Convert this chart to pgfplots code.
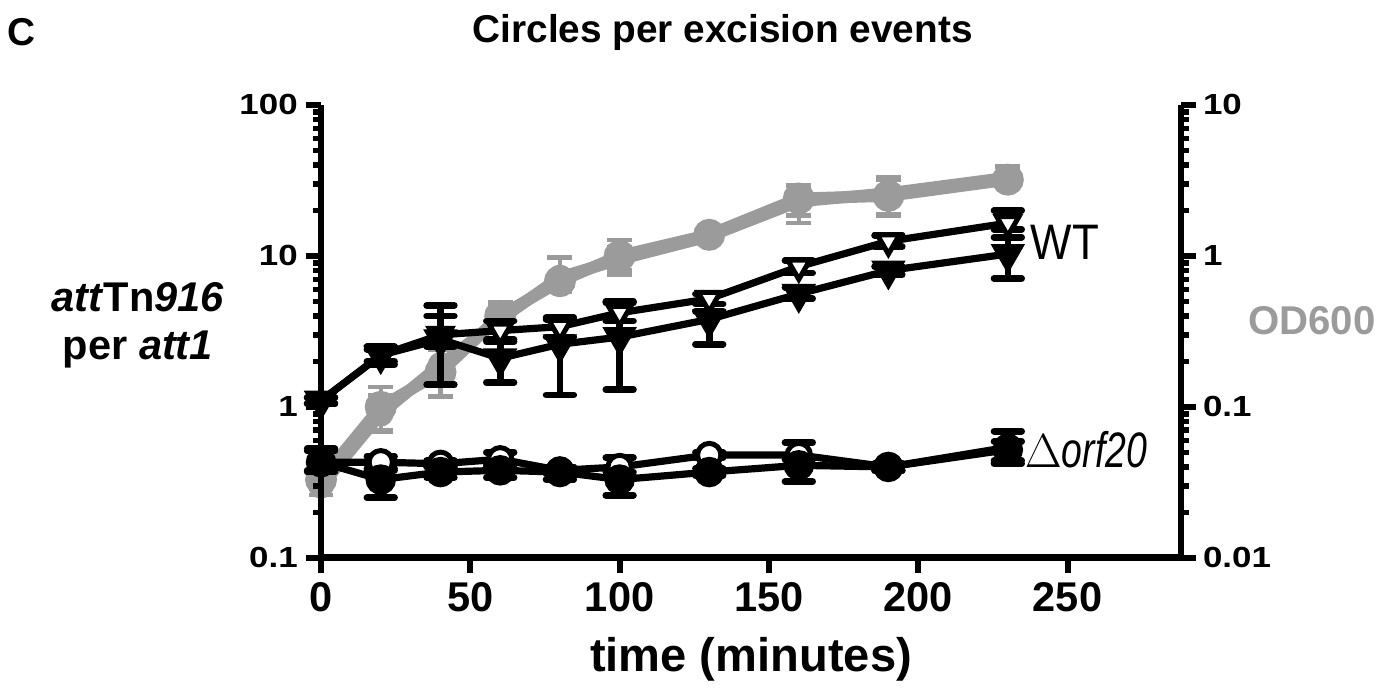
\documentclass[border=0pt]{standalone}
\usepackage{fontspec}
\setmainfont{Liberation Sans}
\newfontfamily\condfont[FakeStretch=0.88]{Liberation Sans}
\newfontfamily\narrowfont[FakeStretch=0.75]{Liberation Sans}
\newfontfamily\widefont[FakeStretch=1.2]{Liberation Sans}
\usepackage{pgfplots}
\usepackage{pgfplotstable}
\pgfplotsset{compat=1.18}

\definecolor{odgray}{RGB}{155,155,155}

% OD600 of the two cultures (right axis)
\pgfplotstableread{
t v ep em
0 0.033 0.006 0.007
20 0.100 0.035 0.030
40 0.170 0.070 0.053
60 0.400 0.090 0.060
80 0.680 0.300 0.100
100 1.000 0.270 0.250
130 1.380 0.150 0.100
160 2.400 0.550 0.550
190 2.500 0.800 0.650
230 3.200 0.700 0.350
}\odA
\pgfplotstableread{
t v ep em
0 0.030 0.005 0.004
20 0.090 0.030 0.022
40 0.190 0.060 0.072
60 0.380 0.100 0.050
80 0.720 0.250 0.120
100 0.950 0.200 0.150
130 1.350 0.120 0.100
160 2.300 0.600 0.650
190 2.600 0.600 0.700
230 3.300 0.600 0.400
}\odB

% circles per excision event (left axis)
\pgfplotstableread{
t v ep em
0 1.10 0.05 0.05
20 2.20 0.20 0.20
40 3.00 1.00 0.50
60 3.20 0.50 0.40
80 3.40 0.50 0.50
100 4.20 0.80 0.50
130 5.20 0.40 0.40
160 8.50 0.80 0.80
190 12.50 1.20 1.00
230 16.50 3.50 1.50
}\wtopen
\pgfplotstableread{
t v ep em
0 1.10 0.05 0.05
20 2.20 0.30 0.30
40 2.80 1.90 1.40
60 2.10 0.60 0.65
80 2.60 1.20 1.40
100 2.90 2.00 1.60
130 3.80 0.50 1.20
160 5.60 0.60 0.40
190 8.00 0.50 0.50
230 10.30 3.00 3.20
}\wtfilled
\pgfplotstableread{
t v ep em
0 0.43 0.10 0.05
20 0.43 0.04 0.04
40 0.42 0.02 0.02
60 0.45 0.05 0.04
80 0.38 0.02 0.02
100 0.40 0.06 0.05
130 0.48 0.02 0.02
160 0.48 0.10 0.07
190 0.40 0.02 0.02
230 0.54 0.15 0.10
}\orfopen
\pgfplotstableread{
t v ep em
0 0.43 0.08 0.06
20 0.33 0.05 0.08
40 0.37 0.03 0.03
60 0.38 0.03 0.04
80 0.37 0.03 0.04
100 0.33 0.04 0.07
130 0.37 0.02 0.02
160 0.41 0.04 0.09
190 0.40 0.02 0.02
230 0.52 0.07 0.10
}\orffilled

\pgfplotsset{
  frame/.style={
    width=310.5pt, height=163.5pt, scale only axis,
    xmin=0, xmax=288, clip=false,
  },
  lines/.style={
    axis line style={line width=2.5pt, -},
    every outer x axis line/.append style={-, line width=2.5pt},
    every outer y axis line/.append style={-, line width=2.5pt},
    tick align=outside,
    major tick length=5.4pt, minor tick length=2.8pt,
    tick style={line width=2.2pt, black},
    minor tick style={line width=2pt, black},
  },
}

\begin{document}
\begin{tikzpicture}
% OD600, right axis
\begin{axis}[frame, ymode=log,
  ymin=0.01, ymax=10,
  axis x line=none, axis y line=right, lines,
  ytick={0.01,0.1,1,10}, yticklabels={0.01,0.1,1,10},
  minor ytick={0.02,0.03,0.04,0.05,0.06,0.07,0.08,0.09,0.2,0.3,0.4,0.5,0.6,0.7,0.8,0.9,2,3,4,5,6,7,8,9},
  yticklabel style={font=\widefont\bfseries\fontsize{10.5}{13}\selectfont, xshift=-1pt},
]
\addplot[odgray, line width=4.3pt, mark=*, mark size=3.8pt, mark options={fill=white, line width=1.6pt},
  error bars/.cd, y dir=both, y explicit,
  error bar style={line width=1.6pt, odgray},
  error mark options={rotate=90, mark size=4.5pt, line width=1.6pt, odgray}]
  table[x=t, y=v, y error plus=ep, y error minus=em] {\odB};
\addplot[odgray, line width=4.3pt, mark=*, mark size=3.6pt,
  error bars/.cd, y dir=both, y explicit,
  error bar style={line width=1.6pt, odgray},
  error mark options={rotate=90, mark size=4.5pt, line width=1.6pt, odgray}]
  table[x=t, y=v, y error plus=ep, y error minus=em] {\odA};
\end{axis}
% excision events, left axis
\begin{axis}[frame, ymode=log,
  ymin=0.1, ymax=100,
  axis x line=bottom, axis y line=left, lines,
  xtick={0,50,100,150,200,250}, minor x tick num=0,
  ytick={0.1,1,10,100}, yticklabels={0.1,1,10,100},
  minor ytick={0.2,0.3,0.4,0.5,0.6,0.7,0.8,0.9,2,3,4,5,6,7,8,9,20,30,40,50,60,70,80,90},
  yticklabel style={font=\widefont\bfseries\fontsize{10.5}{13}\selectfont, xshift=0.5pt},
  xticklabel style={font=\bfseries\fontsize{15}{17}\selectfont},
  /pgf/number format/assume math mode=true,
  xlabel={time (minutes)},
  xlabel style={font=\bfseries\fontsize{17}{20}\selectfont, at={(rel axis cs:0.5,-0.225)}, anchor=center},
]
\addplot[black, line width=2.6pt, mark=triangle*, mark size=4.6pt, mark options={rotate=180, fill=white, line width=1.8pt},
  error bars/.cd, y dir=both, y explicit,
  error bar style={line width=2.4pt},
  error mark options={rotate=90, mark size=5pt, line width=2.4pt, line cap=round}]
  table[x=t, y=v, y error plus=ep, y error minus=em] {\wtopen};
\addplot[black, line width=2.6pt, mark=triangle*, mark size=4.6pt, mark options={rotate=180, fill=black},
  error bars/.cd, y dir=both, y explicit,
  error bar style={line width=2.4pt},
  error mark options={rotate=90, mark size=5pt, line width=2.4pt, line cap=round}]
  table[x=t, y=v, y error plus=ep, y error minus=em] {\wtfilled};
\addplot[black, line width=2.6pt, mark=*, mark size=4.2pt, mark options={fill=white, line width=1.8pt},
  error bars/.cd, y dir=both, y explicit,
  error bar style={line width=2.4pt},
  error mark options={rotate=90, mark size=5pt, line width=2.4pt, line cap=round}]
  table[x=t, y=v, y error plus=ep, y error minus=em] {\orfopen};
\addplot[black, line width=2.6pt, mark=*, mark size=4.2pt, mark options={fill=black},
  error bars/.cd, y dir=both, y explicit,
  error bar style={line width=2.4pt},
  error mark options={rotate=90, mark size=5pt, line width=2.4pt, line cap=round}]
  table[x=t, y=v, y error plus=ep, y error minus=em] {\orffilled};

\node[anchor=west, font=\condfont\fontsize{18}{20}\selectfont, inner sep=0pt] at (axis cs:237.5,12.3) {WT};
\node[anchor=west, font=\narrowfont\fontsize{18}{20}\selectfont, inner sep=0pt] at (axis cs:235.5,0.52) {$\Delta$\textit{orf20}};

\node[font=\bfseries\fontsize{14}{17}\selectfont] at (rel axis cs:0.467,1.159) {Circles per excision events};
\node[font=\bfseries\fontsize{14}{17}\selectfont] at (rel axis cs:-0.348,1.161) {C};
\node[font=\bfseries\fontsize{15}{17.3}\selectfont, align=center] at (rel axis cs:-0.213,0.514) {\textit{att}Tn\textit{916}\\per \textit{att1}};
\node[font=\bfseries\fontsize{14.5}{17}\selectfont, text=odgray] at (rel axis cs:1.152,0.523) {OD600};

\coordinate (bbl) at (rel axis cs:-0.3733,-0.2914);
\coordinate (btr) at (rel axis cs:1.2372,1.2318);
\end{axis}
\pgfresetboundingbox
\path (bbl) rectangle (btr);
\end{tikzpicture}
\end{document}
